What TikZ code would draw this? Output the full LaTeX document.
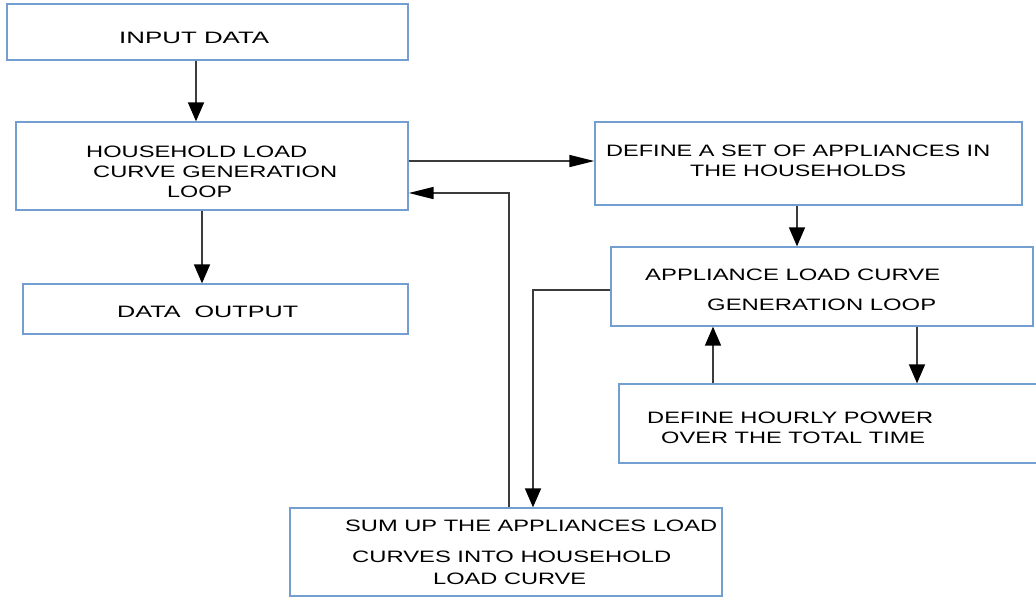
\documentclass[tikz,border=0pt]{standalone}
\usepackage{fontspec}
\setmainfont{Liberation Sans}
\usetikzlibrary{arrows.meta}
\definecolor{boxblue}{RGB}{114,159,207}
\definecolor{linegray}{RGB}{60,60,60}
\newcommand{\tx}[2]{\resizebox{#1pt}{\height}{#2}}
\tikzset{
  box/.style={draw=boxblue, line width=1.3pt, inner sep=0pt, fill=white},
  txt/.style={inner sep=0pt, anchor=west, text=black, font=\fontsize{16.5}{19}\selectfont},
  varr/.style={draw=linegray, line width=1.6pt, -{Triangle[length=19pt,width=16pt,color=black]}},
  harr/.style={draw=linegray, line width=1.6pt, -{Triangle[length=25pt,width=12pt,color=black]}}
}
\begin{document}
\begin{tikzpicture}[x=1pt,y=-1pt]
\useasboundingbox (0,0) rectangle (1036,598);
\clip (0,0) rectangle (1036,598);
% boxes
\node[box, minimum width=401pt, minimum height=56pt] (b1) at (207.5,32) {};
\node[box, minimum width=392pt, minimum height=88pt] (b2) at (212,166) {};
\node[box, minimum width=385pt, minimum height=50pt] (b3) at (215.5,309) {};
\node[box, minimum width=427pt, minimum height=83pt] (b4) at (808.5,163.5) {};
\node[box, minimum width=422pt, minimum height=79pt] (b5) at (822,286.5) {};
\node[box, minimum width=425pt, minimum height=79pt] (b6) at (831.5,423.5) {};
\node[box, minimum width=432pt, minimum height=88pt] (b7) at (506,552) {};
% texts
\node[txt] (t1) at (119,38) {\tx{150}{INPUT DATA}};
\node[txt] (t2a) at (86,152) {\tx{221}{HOUSEHOLD LOAD}};
\node[txt] (t2b) at (93,172) {\tx{244}{CURVE GENERATION}};
\node[txt] (t2c) at (167,192) {\tx{65}{LOOP}};
\node[txt] (t3) at (117,312) {\tx{181}{DATA\ \ OUTPUT}};
\node[txt] (t4a) at (606,151) {\tx{384}{DEFINE A SET OF APPLIANCES IN}};
\node[txt] (t4b) at (690,171) {\tx{216}{THE HOUSEHOLDS}};
\node[txt] (t5a) at (645,275) {\tx{295}{APPLIANCE LOAD CURVE}};
\node[txt] (t5b) at (707,305) {\tx{229}{GENERATION LOOP}};
\node[txt] (t6a) at (647,418) {\tx{286}{DEFINE HOURLY POWER}};
\node[txt] (t6b) at (661,438) {\tx{264}{OVER THE TOTAL TIME}};
\node[txt] (t7a) at (345,526) {\tx{372}{SUM UP THE APPLIANCES LOAD}};
\node[txt] (t7b) at (352,557) {\tx{319}{CURVES INTO HOUSEHOLD}};
\node[txt] (t7c) at (433,579) {\tx{153}{LOAD CURVE}};
% reference coordinates
\coordinate (cA) at (196,0);
\coordinate (cB) at (202,0);
\coordinate (cC) at (509,0);
\coordinate (cD) at (533,0);
\coordinate (cE) at (797,0);
\coordinate (cF) at (713,0);
\coordinate (cG) at (917,0);
\coordinate (rH) at (0,161);
\coordinate (rI) at (0,193);
\coordinate (rJ) at (0,290);
% connectors
\draw[varr] (b1.south -| cA) -- (b2.north -| cA);
\draw[varr] (b2.south -| cB) -- (b3.north -| cB);
\draw[harr] (b2.east |- rH) -- (b4.west |- rH);
\draw[harr] (b7.north -| cC) |- (b2.east |- rI);
\draw[varr] (b4.south -| cE) -- (b5.north -| cE);
\draw[varr] (b5.west |- rJ) -| (b7.north -| cD);
\draw[varr] (b6.north -| cF) -- (b5.south -| cF);
\draw[varr] (b5.south -| cG) -- (b6.north -| cG);
\end{tikzpicture}
\end{document}
